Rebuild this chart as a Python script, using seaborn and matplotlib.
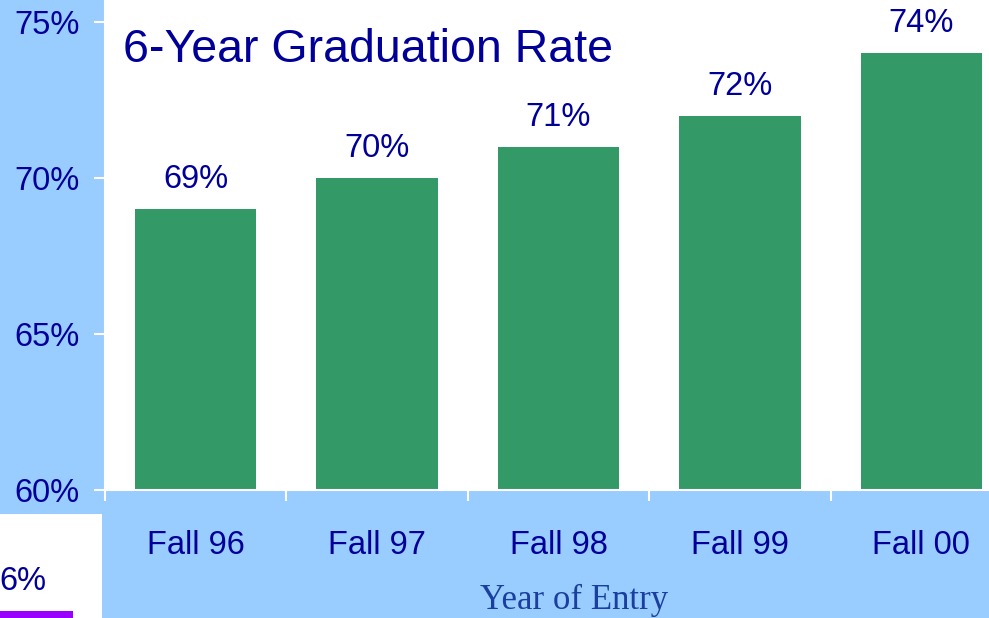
import matplotlib
matplotlib.use("Agg")
import matplotlib.pyplot as plt
import seaborn as sns
import pandas as pd
from matplotlib.ticker import FixedLocator, FuncFormatter
from matplotlib.patches import Rectangle

categories = ["Fall 96", "Fall 97", "Fall 98", "Fall 99", "Fall 00"]
rates = [69, 70, 71, 72, 74]
label_texts = ["69%", "70%", "71%", "72%", "74%"]
ytick_values = [60, 65, 70, 75]

title_text = "6-Year Graduation Rate"
xlabel_text = "Year of Entry"

NAVY = "#000099"
GREEN = "#339966"
BLUE_BG = "#99CCFF"

sns.set_style("white")
plt.rcParams["font.family"] = ["Liberation Sans", "DejaVu Sans"]

df = pd.DataFrame({"cat": categories, "rate": rates})

W, H = 989, 618
fig = plt.figure(figsize=(W / 100, H / 100), dpi=100, facecolor=BLUE_BG)

# white patch in bottom-left corner (cropped neighbouring chart)
fig.patches.append(Rectangle((0, 0), 102 / W, (H - 514) / H, transform=fig.transFigure,
                             facecolor="white", edgecolor="none", zorder=0))
fig.patches.append(Rectangle((0, 0), 73 / W, 7 / H, transform=fig.transFigure,
                             facecolor="#9900FF", edgecolor="none", zorder=1))
fig.text(-1 / W, 1 - 590 / H, "6%", fontsize=23.5, color=NAVY, ha="left", va="baseline")

left = 105 / W
right = 1012 / W
bottom = 128 / H
ax = fig.add_axes([left, bottom, right - left, 1 - bottom])
ax.set_facecolor("white")

sns.barplot(data=df, x="cat", y="rate", color=GREEN, saturation=1, width=0.67,
            linewidth=0, edgecolor="none", ax=ax)

ax.set_ylim(60, 75.705)
ax.set_xlim(-0.5, len(categories) - 0.5)

ax.yaxis.set_major_locator(FixedLocator(ytick_values))
ax.yaxis.set_major_formatter(FuncFormatter(lambda v, p: f"{v:.0f}%"))
ax.tick_params(axis="y", which="major", direction="out", length=8, width=1.5,
               color="white", labelsize=23.5, labelcolor=NAVY, pad=10, left=True)

ax.set_xticks(range(len(categories)))
ax.set_xticklabels(categories)
ax.tick_params(axis="x", which="major", length=0, labelsize=23.5, labelcolor=NAVY, pad=29)
ax.set_xticks([i - 0.5 for i in range(len(categories) + 1)], minor=True)
ax.tick_params(axis="x", which="minor", direction="out", length=8, width=1.5,
               color="white", bottom=True)

for s in ax.spines.values():
    s.set_color("white")
    s.set_linewidth(1.5)

ax.set_xlabel("")
ax.set_ylabel("")

for i, (v, t) in enumerate(zip(rates, label_texts)):
    ax.annotate(t, (i, v), xytext=(0, 15), textcoords="offset points",
                ha="center", va="baseline", fontsize=23.5, color=NAVY, clip_on=False)

fig.text(123 / W, 1 - 62 / H, title_text, fontsize=33.5, color=NAVY, ha="left", va="baseline")
fig.text(574 / W, 1 - 609 / H, xlabel_text, fontsize=25, color="#1a3fa0",
         ha="center", va="baseline", family=["Liberation Serif", "DejaVu Serif"])

fig.savefig("out.png", dpi=100, facecolor=BLUE_BG)
